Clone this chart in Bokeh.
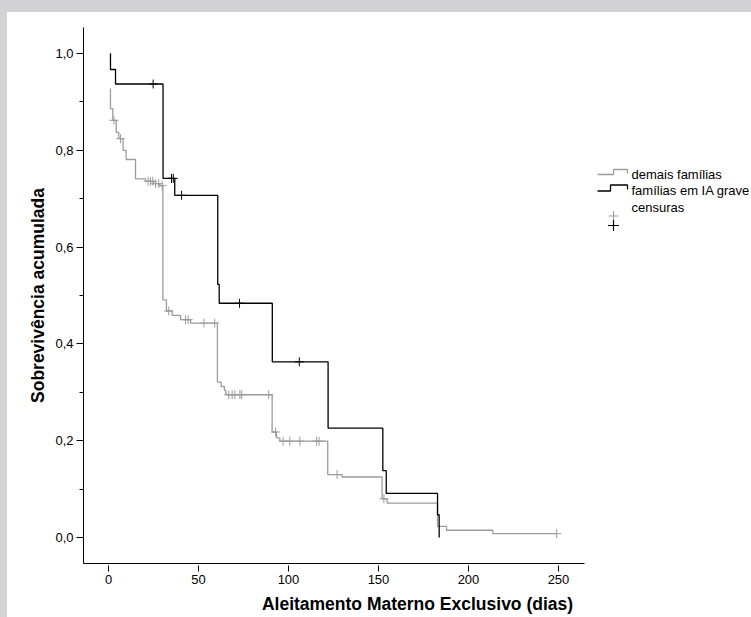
from bokeh.plotting import figure
from bokeh.layouts import column, row
from bokeh.models import Range1d, FixedTicker, CustomJSTickFormatter, Div
from bokeh.core.properties import value
from bokeh.embed import file_html
from bokeh.resources import INLINE

# ---- data ----
# demais famílias (gray) Kaplan-Meier steps: time (dias), survival after step
demais_t = [1.0, 1.1, 2.4, 4.3, 5.7, 8.1, 9.8, 15.0, 20.6, 25.0, 28.5, 30.2, 32.2, 35.4,
            40.0, 45.6, 60.5, 62.6, 64.4, 65.2, 90.9, 93.3, 95.2, 121.8, 129.8, 152.0,
            154.8, 182.8, 187.8, 213.5, 249.0]
demais_s = [0.927, 0.886, 0.862, 0.837, 0.824, 0.800, 0.781, 0.741, 0.736, 0.731, 0.727,
            0.491, 0.468, 0.459, 0.450, 0.443, 0.321, 0.312, 0.304, 0.295, 0.218, 0.206,
            0.199, 0.130, 0.125, 0.080, 0.071, 0.023, 0.015, 0.008, 0.008]
demais_cens_t = [3.0, 6.7, 22.0, 23.3, 24.6, 26.1, 27.9, 29.8, 33.5, 42.8, 44.3, 53.0, 59.0,
                 66.8, 68.7, 70.2, 73.0, 74.0, 89.0, 92.8, 97.0, 100.7, 106.3, 115.6, 117.0,
                 127.0, 153.0, 249.0]
demais_cens_s = [0.862, 0.824, 0.736, 0.736, 0.736, 0.731, 0.731, 0.727, 0.468, 0.450, 0.450,
                 0.443, 0.443, 0.295, 0.295, 0.295, 0.295, 0.295, 0.295, 0.218, 0.199, 0.199,
                 0.199, 0.199, 0.199, 0.130, 0.080, 0.008]

# famílias em IA grave (black)
grave_t = [1.0, 1.1, 3.9, 30.3, 36.8, 60.7, 61.5, 91.0, 122.0, 152.4, 154.3, 182.8, 183.7]
grave_s = [1.0, 0.967, 0.937, 0.742, 0.707, 0.523, 0.484, 0.363, 0.226, 0.138, 0.091, 0.047, 0.0]
grave_cens_t = [24.8, 35.0, 36.0, 40.6, 72.8, 106.0]
grave_cens_s = [0.937, 0.742, 0.742, 0.707, 0.484, 0.363]

x_ticks = [0, 50, 100, 150, 200, 250]
y_ticks = [0.0, 0.2, 0.4, 0.6, 0.8, 1.0]
y_minor = [0.1, 0.3, 0.5, 0.7, 0.9]
legend_labels = ["demais famílias", "famílias em IA grave", "censuras"]

x_title = "Aleitamento Materno Exclusivo (dias)"
y_title = "Sobrevivência acumulada"

GRAY = "#9c9c9c"
BLACK = "#000000"
FRAME_GRAY = "#d3d3d5"
FONT = "Liberation Sans"

# ---- layout ----
PAGE_W, PAGE_H = 751, 617
OFF_X, OFF_Y = 7, 12          # white panel offset inside the gray page frame
W, H = PAGE_W - OFF_X, PAGE_H - OFF_Y
ML, MT = 83 - OFF_X, 27 - OFF_Y
MB = H - (563 - OFF_Y)
FW, FH = W - ML, H - MT - MB
PX_PER_X = 1.8
x0 = -25 / PX_PER_X
x1 = x0 + FW / PX_PER_X
y0 = -0.0537
y1 = y0 + FH / 484.0

p = figure(width=W, height=H, title=None,
           x_range=Range1d(x0, x1), y_range=Range1d(y0, y1),
           min_border_left=ML, min_border_right=0, min_border_top=MT, min_border_bottom=MB,
           output_backend="svg", toolbar_location=None,
           background_fill_color="white", border_fill_color="white")
p.outline_line_color = None
p.grid.visible = False

# curves
p.step(demais_t, demais_s, mode="after", line_color=GRAY, line_width=1.3)
p.step(grave_t, grave_s, mode="after", line_color=BLACK, line_width=1.3)
p.scatter(demais_cens_t, demais_cens_s, marker="cross", size=9, line_color=GRAY, line_width=1)
p.scatter(grave_cens_t, grave_cens_s, marker="cross", size=9, line_color=BLACK, line_width=1)

# axes
xa = p.xaxis[0]
xa.ticker = FixedTicker(ticks=x_ticks, minor_ticks=[])
xa.bounds = (x0, x0 + 501 / PX_PER_X)
xa.major_tick_in = -2
xa.major_tick_out = 8
xa.major_label_standoff = 3
xa.axis_label = x_title
xa.axis_label_standoff = 7

ya = p.yaxis[0]
ya.ticker = FixedTicker(ticks=y_ticks, minor_ticks=y_minor)
ya.formatter = CustomJSTickFormatter(code="return tick.toFixed(1).replace('.', ',');")
ya.major_tick_in = 0
ya.major_tick_out = 7
ya.minor_tick_in = 0
ya.minor_tick_out = 4
ya.major_label_standoff = 3
ya.axis_label = y_title
ya.axis_label_standoff = 4

for ax in (xa, ya):
    ax.axis_line_color = BLACK
    ax.axis_line_width = 1
    ax.major_tick_line_color = BLACK
    ax.minor_tick_line_color = BLACK
    ax.major_label_text_font = FONT
    ax.major_label_text_font_size = "13px"
    ax.major_label_text_color = BLACK
    ax.axis_label_text_font = FONT
    ax.axis_label_text_font_size = "17.5px"
    ax.axis_label_text_font_style = "bold"
    ax.axis_label_text_color = BLACK

# ---- legend drawn in frame pixel coordinates ----
p.extra_x_ranges = {"px": Range1d(0, FW)}
p.extra_y_ranges = {"px": Range1d(FH, 0)}
FL, FT = 83, 27  # frame origin on the page
def lx(v): return [a - FL for a in v]
def ly(v): return [a - FT for a in v]

p.line(lx([597, 613, 613, 627, 627]), ly([174, 174, 169, 169, 173]),
       line_color=GRAY, line_width=1.3, x_range_name="px", y_range_name="px")
p.line(lx([597, 610, 610, 627, 627]), ly([190.5, 190.5, 184.5, 184.5, 189]),
       line_color=BLACK, line_width=1.3, x_range_name="px", y_range_name="px")
p.scatter(lx([613]), ly([215.5]), marker="cross", size=10, line_color=GRAY, line_width=1,
          x_range_name="px", y_range_name="px")
p.scatter(lx([613]), ly([225]), marker="cross", size=11, line_color=BLACK, line_width=1.2,
          x_range_name="px", y_range_name="px")
p.text(lx([631, 631, 631]), ly([173.7, 189.5, 207.0]), text=legend_labels,
       text_font=value(FONT), text_font_size="13px", text_color=BLACK,
       text_baseline="alphabetic", text_align="left",
       x_range_name="px", y_range_name="px")

# gray page frame around the white panel
top_strip = Div(text="", width=PAGE_W, height=OFF_Y, margin=0,
                styles={"background-color": FRAME_GRAY})
left_strip = Div(text="", width=OFF_X, height=H, margin=0,
                 styles={"background-color": FRAME_GRAY})
layout = column(top_strip, row(left_strip, p, spacing=0, margin=0), spacing=0, margin=0)

open("out.html", "w").write(file_html(layout, INLINE))
